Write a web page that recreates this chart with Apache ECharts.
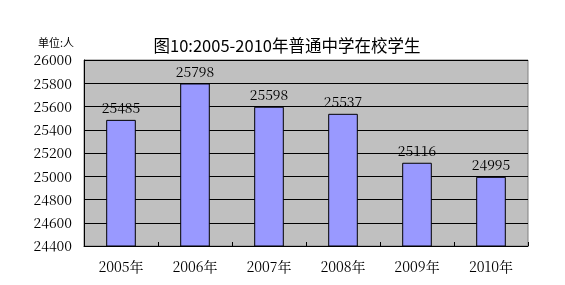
<!DOCTYPE html>
<html><head><meta charset="utf-8">
<script src="https://cdn.jsdelivr.net/npm/echarts@6/dist/echarts.min.js"></script>
<style>html,body{margin:0;padding:0;background:#fff}#c{width:565px;height:285px}</style>
</head><body><div id="c"></div>
<script>
var categories = ['2005年','2006年','2007年','2008年','2009年','2010年'];
var values = [25485, 25798, 25598, 25537, 25116, 24995];
var titleText = '图10:2005-2010年普通中学在校学生';
var unitText = '单位:人';
var fontFam = '"SimSun","Noto Serif CJK SC","Liberation Serif","Noto Sans CJK SC",serif';
var chart = echarts.init(document.getElementById('c'), null, {renderer:'canvas'});
chart.setOption({
  animation:false,
  backgroundColor:'#fff',
  title:[{text:titleText,left:282,top:32,textAlign:'center',textStyle:{fontSize:16.5,fontWeight:'normal',color:'#000',fontFamily:'"Noto Sans CJK SC",sans-serif'}},
         {text:unitText,left:33,top:32,textStyle:{fontSize:11,fontWeight:'normal',color:'#000',fontFamily:'"Noto Sans CJK SC",sans-serif'}}],
  grid:{left:84,right:37,top:60,bottom:39,show:true,backgroundColor:'#C0C0C0',borderColor:'#808080',borderWidth:1},
  xAxis:{type:'category',data:categories,
    axisLine:{lineStyle:{color:'#000',width:1}},
    axisTick:{show:true,inside:true,length:4,lineStyle:{color:'#000'}},
    axisLabel:{color:'#000',fontSize:14,margin:14,fontFamily:fontFam}},
  yAxis:{type:'value',min:24400,max:26000,interval:200,
    axisLine:{show:true,lineStyle:{color:'#000'}},
    axisTick:{show:false},
    splitLine:{lineStyle:{color:'#000',width:1}},
    axisLabel:{color:'#000',fontSize:14,margin:12,fontFamily:fontFam,formatter:function(v){return String(v);}}},
  series:[{type:'bar',data:values,barWidth:'40%',
    itemStyle:{color:'#9999FF',borderColor:'#000',borderWidth:1},
    label:{show:true,position:'top',distance:5,color:'#000',fontSize:14,fontFamily:fontFam}}]
});
</script></body></html>
